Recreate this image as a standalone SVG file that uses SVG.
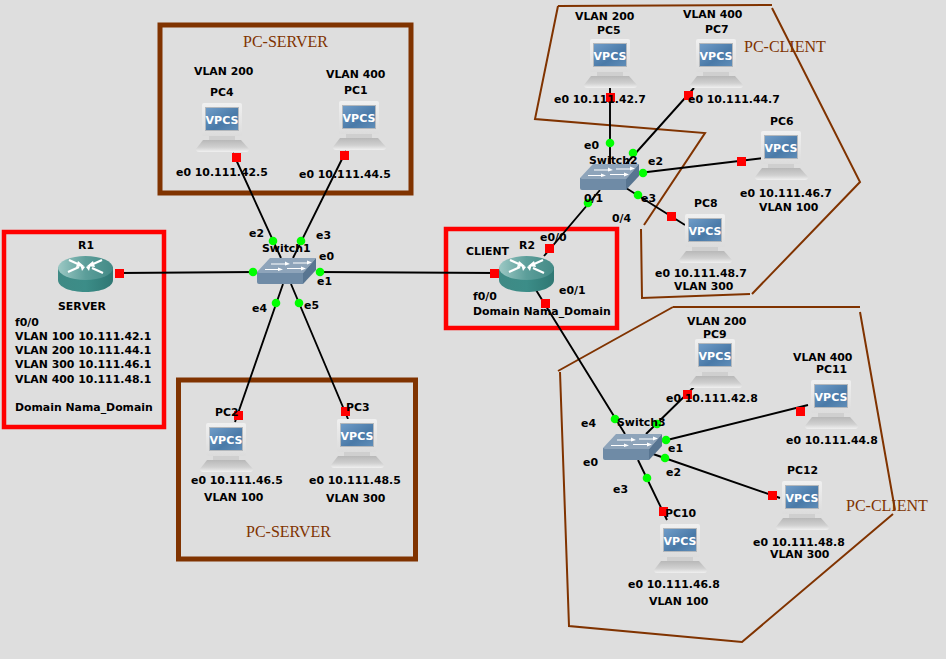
<svg xmlns="http://www.w3.org/2000/svg" xmlns:xlink="http://www.w3.org/1999/xlink" width="946" height="659" viewBox="0 0 946 659">
<style>
text{font-family:"DejaVu Sans",sans-serif;font-size:10.900px;font-weight:700;fill:#000}
text.z{font-family:"Liberation Serif",serif;font-size:16px;font-weight:400;fill:#803300}
.lk{stroke:#000;stroke-width:1.900;fill:none}
.br{stroke:#803300;stroke-width:2;fill:none}
.fb{stroke:#803300;stroke-width:5;fill:none}
.fr{stroke:#f00;stroke-width:4.500;fill:none}
.g{fill:#0f0}.r{fill:#f00}
.ar{stroke:#fff;stroke-width:2.200;fill:none}
</style>
<defs>
<linearGradient id="scr" x1="0" y1="0" x2="1" y2="1"><stop offset="0" stop-color="#6f9cc8"/><stop offset=".6" stop-color="#4a7aa8"/><stop offset="1" stop-color="#5f8db8"/></linearGradient>
<linearGradient id="bs" x1="0" y1="0" x2="0" y2="1"><stop offset="0" stop-color="#b8b8b8"/><stop offset=".6" stop-color="#d0d0d0"/><stop offset="1" stop-color="#f0f0f0"/></linearGradient>
<linearGradient id="mn" x1="0" y1="0" x2="0" y2="1"><stop offset="0" stop-color="#f0f0f0"/><stop offset="1" stop-color="#dcdcdc"/></linearGradient>
<linearGradient id="rt" x1="0" y1="0" x2="1" y2="0"><stop offset="0" stop-color="#3f8a85"/><stop offset=".5" stop-color="#3c8d88"/><stop offset="1" stop-color="#2f7773"/></linearGradient>
<linearGradient id="rtt" x1="0" y1="0" x2="1" y2="0"><stop offset="0" stop-color="#9cc8c4"/><stop offset=".5" stop-color="#5c9e9a"/><stop offset="1" stop-color="#438a86"/></linearGradient>
<g id="pc">
<rect x="6" y="0" width="40" height="33" rx="2" fill="url(#mn)"/>
<rect x="9" y="4" width="34" height="24" fill="#b4b8bc"/>
<rect x="10" y="5" width="32" height="22" fill="url(#scr)"/>
<text x="26" y="21" text-anchor="middle" style="fill:#fff;font-size:11px">VPCS</text>
<rect x="13" y="33" width="26" height="4" fill="#cfcfcf"/>
<path d="M7 37H45L53 46Q53 49 50 49H3Q0 49 0 46Z" fill="url(#bs)"/>
</g>
<g id="router">
<path d="M0 11V24C0 31 12 36 27.500 36S55 31 55 24V11Z" fill="url(#rt)"/>
<ellipse cx="27.500" cy="12" rx="27.500" ry="12" fill="url(#rtt)"/>
<path class="ar" d="M11 4L22 9M44 4L33 9M10 16L21 11M45 17L34 12"/>
<path d="M20 5L26 10L18 11ZM35 5L29 10L37 11ZM22 8L27 11L24 15ZM33 8L28 11L31 15Z" fill="#fff"/>
</g>
<g id="switch">
<path d="M0 14V24Q0 26 2 26H46V15Z" fill="#6f8ba6"/>
<path d="M0 14L13 0H59L46 15H2Z" fill="#8ea4ba"/>
<path d="M46 15L59 0V12L46 26Z" fill="#587591"/>
<path d="M14 5.500H28V3.500L33 6L28 7.500V6.500H14ZM36 4.500H50V2.500L55 4.500L50 6.500V5.500H36ZM8 11H21V9.500L26 11.500L21 13V12H8ZM30 10H44V8.500L49 10.500L44 12.500V11H30Z" fill="#fff"/>
</g>
</defs>
<rect width="946" height="659" fill="#dedede"/>
<g id="zones">
<rect class="fb" x="160" y="25" width="251" height="168"/>
<rect class="fb" x="178.500" y="380" width="237" height="179"/>
<rect class="fr" x="4" y="232" width="160" height="195"/>
<rect class="fr" x="446" y="229" width="171" height="99"/>
<path class="br" d="M558 6L535 119L705 133L644 225M558 6L772 5M772 8L860 182L752 294M750 294L642 298L641 229"/>
<path class="br" d="M673 307L558 371M560 372L569 626L742 642L893 514M895 510L860 312M673 307H860"/>
<text class="z" x="243" y="47">PC-SERVER</text>
<text class="z" x="246" y="537">PC-SERVER</text>
<text class="z" x="744" y="52">PC-CLIENT</text>
<text class="z" x="846" y="511">PC-CLIENT</text>
</g>
<g id="connectors">
<path class="lk" d="M119 273L257 272M233 153L281 258M346 151L293 258M235 422L283 284M348 419L291 284M316 272L499 273"/>
<path class="lk" d="M544 256L600 190M536 290L625 434M610 88V164M694 88L625 165M639 173L764 158M626 188L685 225"/>
<path class="lk" d="M646 434L695 386M663 441L808 405M653 454L780 498M638 460L667 520"/>
<g class="r">
<rect x="115" y="269" width="9" height="9"/><rect x="232" y="153" width="9" height="9"/><rect x="340" y="151" width="9" height="9"/><rect x="234" y="411" width="9" height="9"/><rect x="341" y="407" width="9" height="9"/><rect x="490" y="269" width="9" height="9"/>
<rect x="545" y="244" width="9" height="9"/><rect x="541" y="299" width="9" height="9"/><rect x="606" y="93" width="9" height="9"/><rect x="684" y="91" width="9" height="9"/><rect x="737" y="157" width="9" height="9"/><rect x="667" y="212" width="9" height="9"/>
<rect x="683" y="390" width="9" height="9"/><rect x="796" y="407" width="9" height="9"/><rect x="768" y="491" width="9" height="9"/><rect x="659" y="507" width="9" height="9"/>
</g>
<g class="g">
<circle cx="253" cy="272" r="4.300"/><circle cx="273" cy="241" r="4.300"/><circle cx="301" cy="241" r="4.300"/><circle cx="320" cy="272" r="4.300"/><circle cx="276" cy="303" r="4.300"/><circle cx="299" cy="303" r="4.300"/>
<circle cx="610" cy="143" r="4.300"/><circle cx="633" cy="153" r="4.300"/><circle cx="643" cy="173" r="4.300"/><circle cx="638" cy="195" r="4.300"/><circle cx="588" cy="203" r="4.300"/>
<circle cx="615" cy="419" r="4.300"/><circle cx="657" cy="424" r="4.300"/><circle cx="666" cy="440" r="4.300"/><circle cx="665" cy="458" r="4.300"/><circle cx="647" cy="478" r="4.300"/>
</g>
</g>
<g id="R1"><use xlink:href="#router" x="58" y="256"/><text x="78" y="249">R1</text><text x="58" y="310">SERVER</text><text x="15" y="326">f0/0</text><text x="15" y="340">VLAN 100 10.111.42.1</text><text x="15" y="354">VLAN 200 10.111.44.1</text><text x="15" y="368">VLAN 300 10.111.46.1</text><text x="15" y="383">VLAN 400 10.111.48.1</text><text x="15" y="411">Domain Nama_Domain</text></g>
<g id="R2"><use xlink:href="#router" x="499" y="256"/><text x="519" y="249">R2</text><text x="466" y="255">CLIENT</text><text x="540" y="241">e0/0</text><text x="559" y="294">e0/1</text><text x="473" y="300">f0/0</text><text x="473" y="315">Domain Nama_Domain</text></g>
<g id="Switch1"><use xlink:href="#switch" x="257" y="258"/><text x="262" y="252">Switch1</text><text x="249" y="237">e2</text><text x="316" y="239">e3</text><text x="319" y="260">e0</text><text x="317" y="285">e1</text><text x="252" y="312">e4</text><text x="304" y="309">e5</text></g>
<g id="Switch2"><use xlink:href="#switch" x="580" y="164"/><text x="589" y="164">Switch2</text><text x="584" y="149">e0</text><text x="648" y="165">e2</text><text x="584" y="202">0/1</text><text x="641" y="202">e3</text><text x="612" y="222">0/4</text></g>
<g id="Switch3"><use xlink:href="#switch" x="603" y="434"/><text x="617" y="426">Switch3</text><text x="581" y="427">e4</text><text x="583" y="466">e0</text><text x="668" y="452">e1</text><text x="666" y="476">e2</text><text x="613" y="493">e3</text></g>
<g id="PC4"><use xlink:href="#pc" x="196" y="103"/><text x="194" y="75">VLAN 200</text><text x="210" y="96">PC4</text><text x="176" y="176">e0 10.111.42.5</text></g>
<g id="PC1"><use xlink:href="#pc" x="333" y="101"/><text x="326" y="78">VLAN 400</text><text x="344" y="94">PC1</text><text x="299" y="178">e0 10.111.44.5</text></g>
<g id="PC2"><use xlink:href="#pc" x="200" y="423"/><text x="215" y="416">PC2</text><text x="191" y="484">e0 10.111.46.5</text><text x="204" y="501">VLAN 100</text></g>
<g id="PC3"><use xlink:href="#pc" x="331" y="419"/><text x="346" y="411">PC3</text><text x="309" y="484">e0 10.111.48.5</text><text x="326" y="502">VLAN 300</text></g>
<g id="PC5"><use xlink:href="#pc" x="584" y="39"/><text x="575" y="20">VLAN 200</text><text x="597" y="34">PC5</text><text x="554" y="103">e0 10.111.42.7</text></g>
<g id="PC7"><use xlink:href="#pc" x="690" y="39"/><text x="683" y="18">VLAN 400</text><text x="705" y="33">PC7</text><text x="688" y="103">e0 10.111.44.7</text></g>
<g id="PC6"><use xlink:href="#pc" x="755" y="131"/><text x="770" y="125">PC6</text><text x="740" y="197">e0 10.111.46.7</text><text x="759" y="211">VLAN 100</text></g>
<g id="PC8"><use xlink:href="#pc" x="679" y="214"/><text x="694" y="207">PC8</text><text x="655" y="277">e0 10.111.48.7</text><text x="674" y="290">VLAN 300</text></g>
<g id="PC9"><use xlink:href="#pc" x="689" y="339"/><text x="687" y="325">VLAN 200</text><text x="703" y="338">PC9</text><text x="666" y="402">e0 10.111.42.8</text></g>
<g id="PC11"><use xlink:href="#pc" x="805" y="380"/><text x="793" y="361">VLAN 400</text><text x="816" y="373">PC11</text><text x="786" y="444">e0 10.111.44.8</text></g>
<g id="PC12"><use xlink:href="#pc" x="776" y="481"/><text x="787" y="474">PC12</text><text x="753" y="546">e0 10.111.48.8</text><text x="770" y="558">VLAN 300</text></g>
<g id="PC10"><use xlink:href="#pc" x="654" y="524"/><text x="665" y="517">PC10</text><text x="628" y="588">e0 10.111.46.8</text><text x="649" y="605">VLAN 100</text></g>
</svg>
